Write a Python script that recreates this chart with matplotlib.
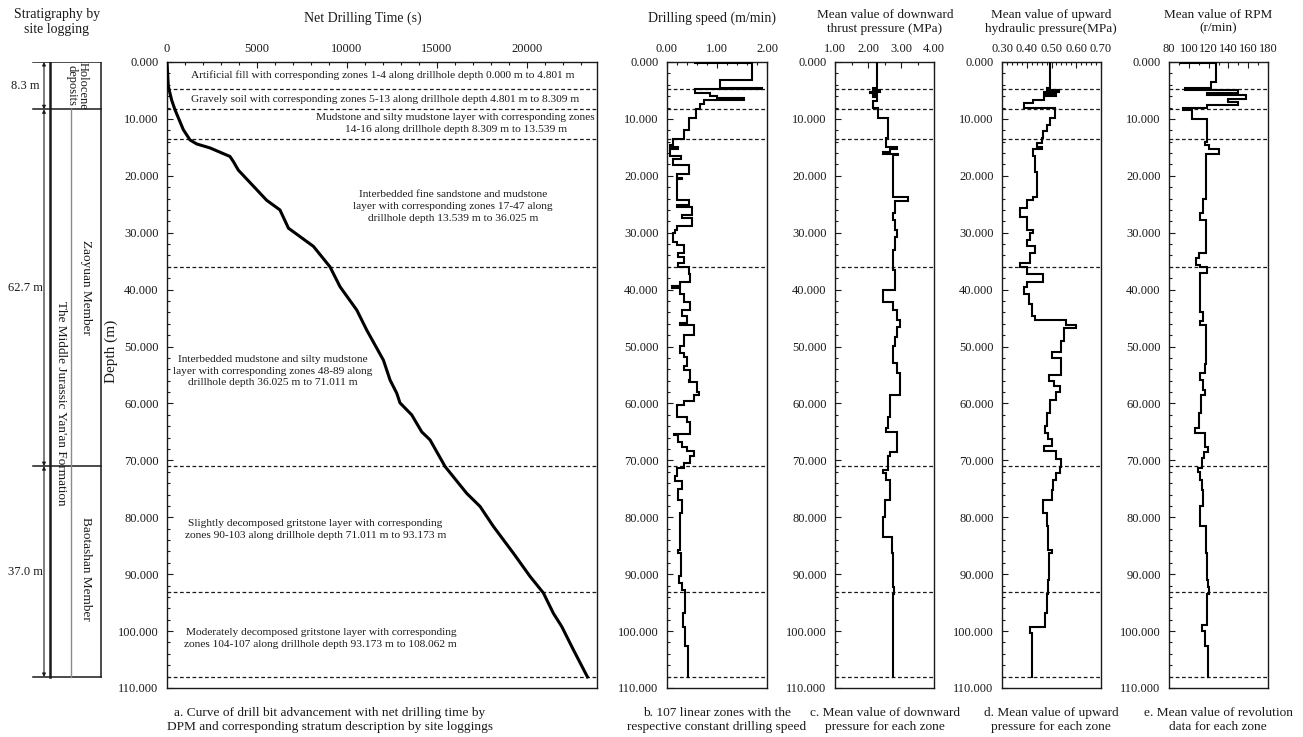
import numpy as np
import matplotlib
matplotlib.use("Agg")
import matplotlib.pyplot as plt
from matplotlib.ticker import MultipleLocator, FormatStrFormatter

plt.rcParams["font.family"] = ["Liberation Serif", "DejaVu Serif"]
plt.rcParams["axes.linewidth"] = 1.0

# ---- stratum boundaries along the drillhole (m) ----
boundaries = [4.801, 8.309, 13.539, 36.025, 71.011, 93.173, 108.062]
hole_bottom = 108.062

# ---- a. drill bit advancement: depth (m) vs net drilling time (s) ----
curve_depth = [0.0, 4.3, 6.7, 8.4, 9.8, 11.9, 13.7, 14.4, 15.1, 16.6, 17.5, 19.0,
               24.3, 26.0, 29.2, 32.4, 36.0, 39.5, 43.6, 47.1, 52.4, 55.9, 58.2,
               59.9, 62.0, 65.0, 66.4, 71.1, 74.0, 75.8, 78.1, 81.6, 86.3, 90.4,
               93.3, 96.9, 99.2, 103.3, 108.062]
curve_time = [0, 74, 260, 445, 630, 908, 1280, 1650, 2390, 3500, 3690, 3965,
              5540, 6280, 6750, 8140, 9060, 9620, 10550, 11100, 12030, 12400, 12770,
              12950, 13600, 14160, 14620, 15460, 16200, 16660, 17400, 18140, 19250, 20180,
              20920, 21480, 21940, 22590, 23370]

# ---- b. drilling speed per zone (m/min) ----
speed_top = [0.0, 0.1, 3.2, 4.6, 4.8, 5.4, 6.0, 6.3, 6.6, 7.4, 8.3, 9.9, 11.9, 13.5,
             14.6, 15.0, 15.3, 16.5, 17.0, 18.1, 19.6, 20.3, 20.6, 24.3, 25.1, 25.4,
             26.9, 27.4, 28.9, 29.5, 30.1, 31.6, 32.1, 33.6, 34.2, 35.4, 36.0, 37.2,
             38.7, 39.4, 39.7, 40.7, 42.2, 43.5, 44.7, 45.9, 46.2, 47.9, 49.9, 51.2,
             51.8, 53.5, 54.1, 55.9, 56.3, 58.0, 58.6, 59.5, 60.3, 62.3, 63.2, 65.3,
             65.6, 66.7, 67.6, 68.4, 69.3, 70.4, 71.3, 72.8, 73.6, 75.1, 76.9, 79.3,
             85.7, 86.3, 90.4, 91.5, 92.7, 96.9, 99.2, 102.7]
speed = [0.55, 1.69, 1.06, 1.90, 0.56, 0.86, 1.00, 1.53, 0.73, 0.65, 0.58, 0.43, 0.33, 0.12,
         0.05, 0.22, 0.05, 0.28, 0.12, 0.43, 0.20, 0.30, 0.19, 0.43, 0.20, 0.50,
         0.30, 0.50, 0.20, 0.16, 0.12, 0.19, 0.33, 0.22, 0.33, 0.22, 0.43, 0.46,
         0.26, 0.10, 0.26, 0.33, 0.46, 0.30, 0.40, 0.26, 0.53, 0.33, 0.26, 0.33,
         0.40, 0.33, 0.46, 0.43, 0.59, 0.63, 0.53, 0.33, 0.19, 0.39, 0.46, 0.13,
         0.22, 0.29, 0.39, 0.53, 0.46, 0.33, 0.19, 0.15, 0.29, 0.22, 0.29, 0.26,
         0.22, 0.28, 0.24, 0.29, 0.36, 0.32, 0.35, 0.42]

# ---- c. downward thrust pressure per zone (MPa) ----
thrust_top = [0.0, 4.6, 5.0, 5.2, 5.5, 5.8, 6.2, 6.9, 8.1, 9.9, 13.3, 14.9, 15.2, 15.8,
              16.1, 16.4, 23.7, 24.5, 26.6, 27.8, 29.5, 30.7, 33.0, 36.5, 40.0, 42.1,
              43.6, 45.3, 46.5, 48.3, 49.9, 52.9, 54.7, 55.9, 58.5, 62.3, 64.4, 65.0,
              68.5, 69.3, 71.7, 72.3, 73.4, 76.9, 79.9, 83.4, 86.3, 92.2, 93.4, 101.6]
thrust = [2.26, 2.16, 2.36, 2.05, 2.26, 2.16, 2.26, 2.16, 2.30, 2.62, 2.56, 2.87, 2.67, 2.46,
          2.92, 2.77, 3.20, 2.82, 2.77, 2.82, 2.87, 2.82, 2.77, 2.82, 2.46, 2.77,
          2.87, 2.97, 2.87, 2.82, 2.77, 2.87, 2.97, 2.97, 2.67, 2.62, 2.55, 2.87,
          2.67, 2.62, 2.46, 2.56, 2.67, 2.51, 2.46, 2.72, 2.75, 2.79, 2.75, 2.77]

# ---- d. upward hydraulic pressure per zone (MPa) ----
hydr_top = [0.0, 4.6, 5.0, 5.3, 5.6, 6.0, 6.6, 7.2, 8.1, 9.9, 11.0, 12.2, 13.3, 14.2,
            15.0, 15.3, 16.5, 19.4, 23.7, 24.3, 25.7, 27.2, 29.5, 30.1, 31.3, 32.4,
            33.6, 35.4, 36.0, 37.2, 38.7, 39.5, 40.7, 42.5, 44.6, 45.3, 46.3, 46.8,
            49.0, 51.0, 52.0, 55.0, 56.0, 57.0, 58.0, 59.4, 61.7, 64.0, 65.2, 66.3,
            67.5, 68.4, 69.8, 71.1, 72.2, 73.4, 75.2, 76.9, 79.3, 81.6, 85.7, 86.3,
            91.0, 93.4, 96.9, 99.2, 100.4]
hydr = [0.494, 0.480, 0.530, 0.470, 0.520, 0.470, 0.427, 0.387, 0.515, 0.494, 0.480, 0.467,
        0.460, 0.440, 0.460, 0.427, 0.433, 0.440, 0.427, 0.400, 0.373, 0.400, 0.427, 0.413,
        0.400, 0.433, 0.413, 0.373, 0.400, 0.467, 0.400, 0.387, 0.410, 0.420, 0.433, 0.560,
        0.600, 0.550, 0.540, 0.500, 0.540, 0.490, 0.510, 0.535, 0.520, 0.494, 0.480, 0.474,
        0.487, 0.500, 0.470, 0.520, 0.540, 0.535, 0.520, 0.507, 0.500, 0.467, 0.480, 0.487,
        0.500, 0.490, 0.485, 0.480, 0.474, 0.413, 0.420]

# ---- e. revolution speed per zone (r/min) ----
rpm_top = [0.0, 0.2, 3.5, 4.6, 4.9, 5.4, 5.8, 6.5, 7.0, 7.6, 8.0, 8.5, 10.0, 14.0, 14.6,
           15.2, 16.2, 24.0, 26.6, 27.8, 33.5, 34.5, 35.6, 36.1, 37.0, 44.0, 45.5, 46.3,
           53.0, 54.7, 55.9, 57.6, 58.5, 61.7, 64.4, 65.2, 67.6, 68.5, 69.6, 71.4, 72.0,
           73.4, 75.2, 78.1, 81.6, 86.3, 91.0, 92.2, 93.4, 98.9, 100.0, 102.6]
rpm = [92, 127, 122, 96, 150, 118, 158, 140, 150, 118, 94, 103, 118, 116, 120,
       130, 117, 114, 111, 117, 110, 107, 111, 118, 111, 114, 111, 117,
       116, 111, 114, 116, 112, 110, 106, 116, 119, 115, 113, 109, 111,
       113, 114, 111, 117, 118, 119, 120, 118, 113, 116, 119]

# ---- stratigraphy column ----
strat_bottoms = [8.309, 71.011, 108.062]
strat_thickness = ["8.3 m", "62.7 m", "37.0 m"]

layer_notes = [
    ("Artificial fill with corresponding zones 1-4 along drillhole depth 0.000 m to 4.801 m", 12000, 2.3),
    ("Gravely soil with corresponding zones 5-13 along drillhole depth 4.801 m to 8.309 m", 12150, 6.6),
    ("Mudstone and silty mudstone layer with corresponding zones\n14-16 along drillhole depth 8.309 m to 13.539 m", 16050, 10.8),
    ("Interbedded fine sandstone and mudstone\nlayer with corresponding zones 17-47 along\ndrillhole depth 13.539 m to 36.025 m", 15900, 25.4),
    ("Interbedded mudstone and silty mudstone\nlayer with corresponding zones 48-89 along\ndrillhole depth 36.025 m to 71.011 m", 5900, 54.3),
    ("Slightly decomposed gritstone layer with corresponding\nzones 90-103 along drillhole depth 71.011 m to 93.173 m", 8250, 82.1),
    ("Moderately decomposed gritstone layer with corresponding\nzones 104-107 along drillhole depth 93.173 m to 108.062 m", 8550, 101.3),
]

INK = "#1a1a1a"
W, H = 1303, 737
TOP_PX, BOT_PX = 62, 688


def rect(left_px, right_px):
    return [left_px / W, 1 - BOT_PX / H, (right_px - left_px) / W, (BOT_PX - TOP_PX) / H]


def zone_profile(tops, values):
    edges = np.append(tops, hole_bottom)
    y = np.repeat(edges, 2)[1:-1]
    x = np.repeat(values, 2)
    return x, y


def depth_axis(ax, xlim, major, minor, xfmt):
    ax.set_ylim(110, 0)
    ax.set_xlim(*xlim)
    ax.yaxis.set_major_locator(MultipleLocator(10))
    ax.yaxis.set_minor_locator(MultipleLocator(2))
    ax.yaxis.set_major_formatter(FormatStrFormatter("%.3f"))
    ax.xaxis.set_major_locator(MultipleLocator(major))
    ax.xaxis.set_minor_locator(MultipleLocator(minor))
    ax.xaxis.set_major_formatter(FormatStrFormatter(xfmt))
    ax.xaxis.tick_top()
    ax.tick_params(axis="both", which="both", direction="in", colors=INK,
                   labelsize=9, width=0.8)
    ax.tick_params(axis="both", which="major", length=4)
    ax.tick_params(axis="both", which="minor", length=2.5)
    ax.tick_params(axis="x", pad=5)
    ax.tick_params(axis="y", pad=6)
    for s in ax.spines.values():
        s.set_color(INK)
    for d in boundaries:
        ax.axhline(d, color=INK, lw=0.9, ls=(0, (3, 2)), zorder=1)


fig = plt.figure(figsize=(W / 100, H / 100), dpi=100)

# a. net drilling time curve
ax_a = fig.add_axes(rect(167, 597))
depth_axis(ax_a, (0, 23900), 5000, 1000, "%d")
ax_a.plot(curve_time, curve_depth, color="black", lw=2.2, zorder=3)
ax_a.set_ylabel("Depth (m)", fontsize=11, color=INK)
ax_a.yaxis.set_label_coords(-0.114, 0.537)
for note, tx, dy in layer_notes:
    ax_a.text(tx, dy, note, ha="center", va="center", fontsize=8.2, color=INK,
              linespacing=1.4)

# b-e. per-zone step profiles
panels = [
    ((667, 767), (0, 2), 1.0, 0.2, "%.2f", speed_top, speed),
    ((835, 934), (1, 4), 1.0, 0.5, "%.2f", thrust_top, thrust),
    ((1002, 1101), (0.3, 0.7), 0.1, 0.02, "%.2f", hydr_top, hydr),
    ((1169, 1268), (80, 180), 20, 10, "%d", rpm_top, rpm),
]
for (l, r), xlim, major, minor, fmt, tops, vals in panels:
    ax = fig.add_axes(rect(l, r))
    depth_axis(ax, xlim, major, minor, fmt)
    x, y = zone_profile(tops, vals)
    ax.plot(x, y, color="black", lw=1.5, zorder=3, solid_joinstyle="miter")

# stratigraphy column by site logging
ax_s = fig.add_axes([0, 1 - BOT_PX / H, 101.5 / W, (BOT_PX - TOP_PX) / H])
ax_s.set_xlim(0, 101.5)
ax_s.set_ylim(110, 0)
ax_s.axis("off")
for d in [0.0] + strat_bottoms:
    ax_s.plot([33, 101], [d, d], color=INK, lw=1.1)
ax_s.plot([50, 50], [0, hole_bottom], color=INK, lw=1.8)
ax_s.plot([101, 101], [0, hole_bottom], color=INK, lw=1.1)
ax_s.plot([71, 71], [strat_bottoms[0], hole_bottom], color="#8a8a8a", lw=1.0)
top = 0.0
for bot, lab in zip(strat_bottoms, strat_thickness):
    ax_s.annotate("", xy=(44, top), xytext=(44, bot),
                  arrowprops=dict(arrowstyle="<|-|>", lw=0.8, color=INK,
                                  mutation_scale=5, shrinkA=0, shrinkB=0))
    ax_s.text(25, (top + bot) / 2, lab, ha="center", va="center", fontsize=9, color=INK)
    top = bot
ax_s.text(77, 4.15, "Holocene\ndeposits", rotation=270, ha="center", va="center",
          fontsize=9, color=INK, linespacing=1.0)
ax_s.text(60.5, 60, "The Middle Jurassic Yan'an Formation", rotation=270,
          ha="center", va="center", fontsize=9.5, color=INK)
ax_s.text(86, 39.7, "Zaoyuan Member", rotation=270, ha="center", va="center",
          fontsize=9.5, color=INK)
ax_s.text(86, 89, "Baotashan Member", rotation=270, ha="center", va="center",
          fontsize=9.5, color=INK)

# headers
header_y = 1 - 22 / H
fig.text(57 / W, header_y, "Stratigraphy by\nsite logging", ha="center", va="center",
         fontsize=10, color=INK, linespacing=1.15)
fig.text(363 / W, 1 - 18 / H, "Net Drilling Time (s)", ha="center", va="center",
         fontsize=10, color=INK)
fig.text(712 / W, 1 - 18 / H, "Drilling speed (m/min)", ha="center", va="center",
         fontsize=10, color=INK)
fig.text(885 / W, header_y, "Mean value of downward\nthrust pressure (MPa)",
         ha="center", va="center", fontsize=9.5, color=INK, linespacing=1.15)
fig.text(1051 / W, header_y, "Mean value of upward\nhydraulic pressure(MPa)",
         ha="center", va="center", fontsize=9.5, color=INK, linespacing=1.15)
fig.text(1218 / W, header_y, "Mean value of RPM\n(r/min)",
         ha="center", va="center", fontsize=9.5, color=INK, linespacing=1.15)

# captions
cap_y = 1 - 720 / H
captions = [
    (330, "a. Curve of drill bit advancement with net drilling time by\nDPM and corresponding stratum description by site loggings"),
    (717, "b. 107 linear zones with the\nrespective constant drilling speed"),
    (885, "c. Mean value of downward\npressure for each zone"),
    (1051, "d. Mean value of upward\npressure for each zone"),
    (1218, "e. Mean value of revolution\ndata for each zone"),
]
for cx, txt in captions:
    fig.text(cx / W, cap_y, txt, ha="center", va="center", fontsize=9.6,
             color=INK, linespacing=1.15)

fig.savefig("out.png", dpi=100, facecolor="white")
